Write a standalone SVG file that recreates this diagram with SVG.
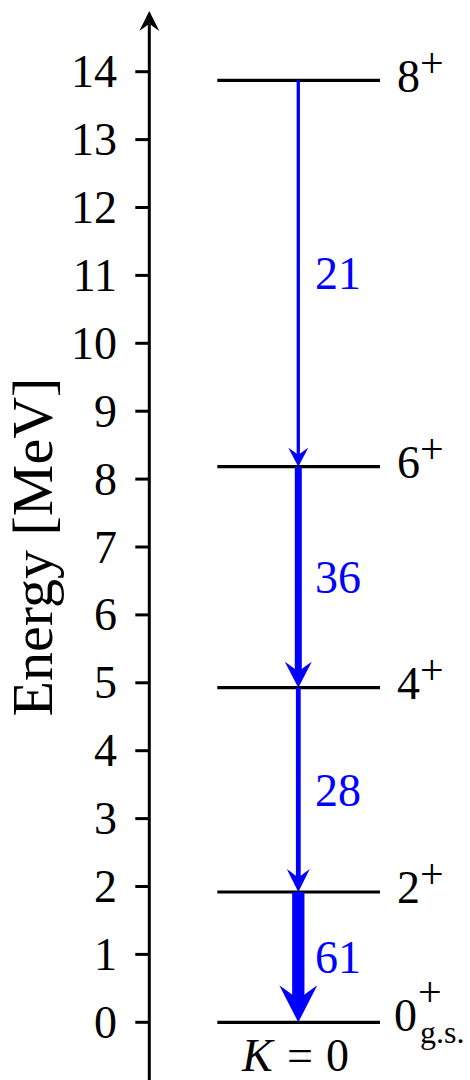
<svg xmlns="http://www.w3.org/2000/svg" width="470" height="1080" viewBox="0 0 470 1080">
<style>
text{font-family:"Liberation Serif","Times New Roman",serif;font-size:46px;fill:#000}
.tl{text-anchor:end}
.blue{fill:#0000ff}
.sup{font-size:42px}
.sub{font-size:32px}
.axis{stroke:#000;stroke-width:3;fill:none}
.lvl{stroke:#000;stroke-width:3.2;fill:none}
.tr{stroke:#0000ff;fill:none}
.head{fill:#0000ff;stroke:none}
</style>
<rect width="470" height="1080" fill="#fff"/>
<g id="axis">
<line class="axis" x1="149.3" y1="1080" x2="149.3" y2="24"/>
<path d="M149.3,11 L139.3,31 Q146.3,26 149.3,23.5 Q152.3,26 159.3,31 Z" fill="#000"/>
<g class="axis">
<line x1="135.3" y1="1022.3" x2="149.3" y2="1022.3"/>
<line x1="135.3" y1="954.4" x2="149.3" y2="954.4"/>
<line x1="135.3" y1="886.5" x2="149.3" y2="886.5"/>
<line x1="135.3" y1="818.6" x2="149.3" y2="818.6"/>
<line x1="135.3" y1="750.7" x2="149.3" y2="750.7"/>
<line x1="135.3" y1="682.8" x2="149.3" y2="682.8"/>
<line x1="135.3" y1="614.9" x2="149.3" y2="614.9"/>
<line x1="135.3" y1="547.0" x2="149.3" y2="547.0"/>
<line x1="135.3" y1="479.1" x2="149.3" y2="479.1"/>
<line x1="135.3" y1="411.2" x2="149.3" y2="411.2"/>
<line x1="135.3" y1="343.3" x2="149.3" y2="343.3"/>
<line x1="135.3" y1="275.4" x2="149.3" y2="275.4"/>
<line x1="135.3" y1="207.5" x2="149.3" y2="207.5"/>
<line x1="135.3" y1="139.6" x2="149.3" y2="139.6"/>
<line x1="135.3" y1="71.7" x2="149.3" y2="71.7"/>
</g>
<g>
<text class="tl" x="117" y="1037.8">0</text>
<text class="tl" x="117" y="969.9">1</text>
<text class="tl" x="117" y="902.0">2</text>
<text class="tl" x="117" y="834.1">3</text>
<text class="tl" x="117" y="766.2">4</text>
<text class="tl" x="117" y="698.3">5</text>
<text class="tl" x="117" y="630.4">6</text>
<text class="tl" x="117" y="562.5">7</text>
<text class="tl" x="117" y="494.6">8</text>
<text class="tl" x="117" y="426.7">9</text>
<text class="tl" x="117" y="358.8">10</text>
<text class="tl" x="117" y="290.9">11</text>
<text class="tl" x="117" y="223.0">12</text>
<text class="tl" x="117" y="155.1">13</text>
<text class="tl" x="117" y="87.2">14</text>
</g>
<text transform="translate(52,547) rotate(-90)" text-anchor="middle" style="font-size:58px">Energy [MeV]</text>
</g>
<g id="level-8">
<line class="lvl" x1="217.3" y1="80.3" x2="380" y2="80.3"/>
<text x="397" y="91.5">8<tspan class="sup" dy="-15">+</tspan></text>
</g>
<g id="level-6">
<line class="lvl" x1="217.3" y1="466.7" x2="380" y2="466.7"/>
<text x="397" y="477.7">6<tspan class="sup" dy="-15">+</tspan></text>
</g>
<g id="level-4">
<line class="lvl" x1="217.3" y1="687.7" x2="380" y2="687.7"/>
<text x="397" y="698.7">4<tspan class="sup" dy="-15">+</tspan></text>
</g>
<g id="level-2">
<line class="lvl" x1="217.3" y1="892" x2="380" y2="892"/>
<text x="397" y="903">2<tspan class="sup" dy="-15">+</tspan></text>
</g>
<g id="level-0">
<line class="lvl" x1="217.3" y1="1022.3" x2="380" y2="1022.3"/>
<text x="394" y="1031">0<tspan class="sup" x="418" y="1005.5">+</tspan><tspan class="sub" x="420" y="1043">g.s.</tspan></text>
<text y="1071"><tspan x="242" font-style="italic">K</tspan><tspan x="287">=</tspan><tspan x="326">0</tspan></text>
</g>
<g id="transitions">
<line class="tr" stroke-width="3.3" x1="298.3" y1="80.3" x2="298.3" y2="456"/>
<path class="head" d="M298.3,466.7 L288.3,447.7 Q296.3,453 298.3,455.3 Q300.3,453 308.3,447.7 Z"/>
<text class="blue" x="315" y="289">21</text>
<line class="tr" stroke-width="7" x1="298.3" y1="466.7" x2="298.3" y2="674"/>
<path class="head" d="M298.3,687.7 L284.8,661.7 Q295.6,669 298.3,672.1 Q301,669 311.8,661.7 Z"/>
<text class="blue" x="315" y="593">36</text>
<line class="tr" stroke-width="4.8" x1="298.3" y1="687.7" x2="298.3" y2="880"/>
<path class="head" d="M298.3,892 L286.8,869 Q296,875.5 298.3,878.2 Q300.6,875.5 309.8,869 Z"/>
<text class="blue" x="315" y="806">28</text>
<line class="tr" stroke-width="12.3" x1="298.3" y1="892" x2="298.3" y2="1002"/>
<path class="head" d="M298.3,1022.3 L279.3,985.3 Q294.5,996 298.3,1000.1 Q302.1,996 317.3,985.3 Z"/>
<text class="blue" x="315" y="973">61</text>
</g>
</svg>
